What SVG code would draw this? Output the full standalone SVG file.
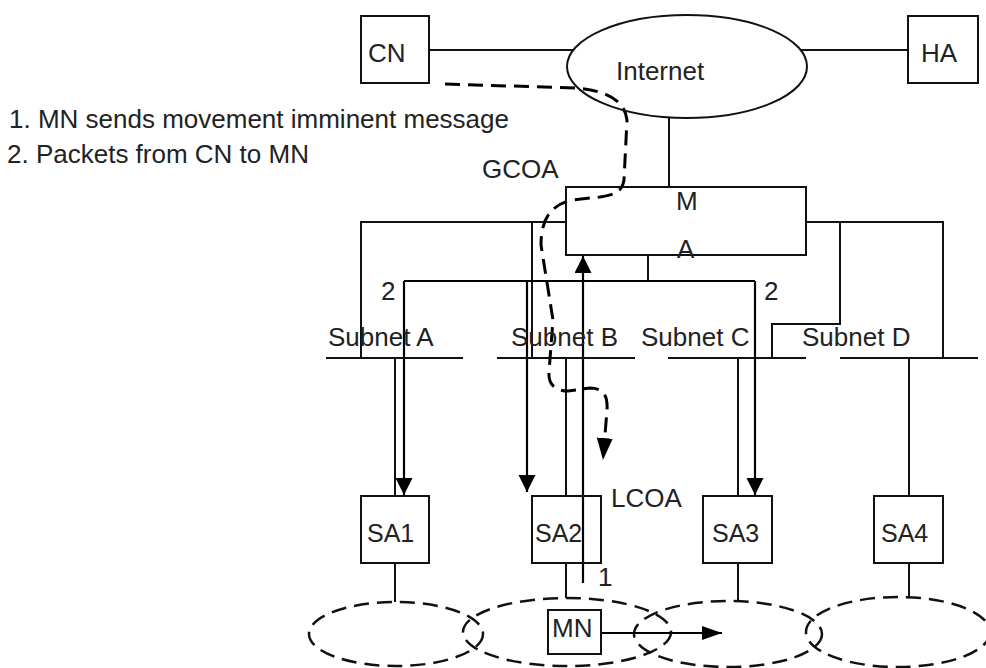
<svg xmlns="http://www.w3.org/2000/svg" width="986" height="668" viewBox="0 0 986 668">
  <style>
    text { font-family: "Liberation Sans", Arial, sans-serif; font-size: 26px; fill: #222; }
    .box { fill: #fff; stroke: #111; stroke-width: 2; }
    .ln { fill: none; stroke: #111; stroke-width: 2; }
    .arr { fill: none; stroke: #000; stroke-width: 2.2; }
    .cell { fill: none; stroke: #111; stroke-width: 2.5; stroke-dasharray: 15 8; }
    .route { fill: none; stroke: #000; stroke-width: 3; stroke-dasharray: 15 8; }
    .sa { font-size: 25px; }
  </style>
  <defs>
    <marker id="head" markerUnits="userSpaceOnUse" markerWidth="18" markerHeight="18" refX="17" refY="8.5" orient="auto">
      <path d="M0,0 L17,8.5 L0,17 z" fill="#000"/>
    </marker>
    <marker id="headLong" markerUnits="userSpaceOnUse" markerWidth="23" markerHeight="17" refX="22" refY="8" orient="auto">
      <path d="M0,0 L22,8 L0,16 z" fill="#000"/>
    </marker>
    <marker id="headFlat" markerUnits="userSpaceOnUse" markerWidth="21" markerHeight="15" refX="20" refY="7" orient="auto">
      <path d="M0,0 L20,7 L0,14 z" fill="#000"/>
    </marker>
  </defs>

  <!-- legend -->
  <g id="legend">
    <text x="9" y="128">1. MN sends movement imminent message</text>
    <text x="7" y="163">2. Packets from CN to MN</text>
  </g>

  <!-- dashed coverage cells of the four SAs -->
  <g id="cells">
    <ellipse class="cell" cx="396" cy="634" rx="87" ry="32"/>
    <ellipse class="cell" cx="567" cy="632" rx="104" ry="34"/>
    <ellipse class="cell" cx="728" cy="634" rx="94" ry="33"/>
    <ellipse class="cell" cx="898" cy="632" rx="92" ry="35"/>
  </g>

  <!-- wiring and message paths -->
  <g id="connectors">
    <path class="ln" d="M429,50 H573"/>
    <path class="ln" d="M801,50 H908"/>
    <path class="ln" d="M669,117 V187"/>
    <!-- left feeders -->
    <path class="ln" d="M566,222 H361 V358"/>
    <path class="ln" d="M532,222 V358"/>
    <!-- right feeders -->
    <path class="ln" d="M806,222 H943 V358"/>
    <path class="ln" d="M840,222 V324 H772 V358"/>
    <!-- subnet drops to SAs -->
    <path class="ln" d="M395,358 V496"/>
    <path class="ln" d="M566,358 V496"/>
    <path class="ln" d="M738,358 V496"/>
    <path class="ln" d="M909,358 V496"/>
    <!-- SA to cells -->
    <path class="ln" d="M395,563 V602"/>
    <path class="ln" d="M566,563 V598"/>
    <path class="ln" d="M738,563 V601"/>
    <path class="ln" d="M909,563 V597"/>
    <!-- packet path 2 -->
    <path class="ln" d="M648,255 V281"/>
    <path class="arr" d="M404,281 H755"/>
    <path class="arr" d="M404,281 V495" marker-end="url(#head)"/>
    <path class="arr" d="M755,281 V495" marker-end="url(#head)"/>
    <path class="arr" d="M527,281 V492" marker-end="url(#head)"/>
    <!-- message 1 up to the MAP -->
    <path class="arr" d="M583,583 V256" marker-end="url(#head)"/>
    <!-- MN movement -->
    <path class="arr" d="M601,633 H722" marker-end="url(#headFlat)"/>
    <!-- dashed CN to MN route -->
    <path class="route" d="M445,84 L575,88 C605,90 625,100 627,120 L624,180 C622,192 614,195 600,197 L572,200 C550,205 541,220 541,245 L553,320 L549,372 C548,385 556,391 568,391 L590,388 C603,388 608,395 607,410 L603,460" marker-end="url(#headLong)"/>
  </g>

  <g id="CN">
    <rect class="box" x="361" y="16" width="68" height="67"/>
    <text x="368" y="62">CN</text>
  </g>
  <g id="HA">
    <rect class="box" x="908" y="16" width="70" height="67"/>
    <text x="921" y="62">HA</text>
  </g>
  <g id="Internet">
    <ellipse cx="687" cy="66.5" rx="120" ry="51.5" fill="none" stroke="#111" stroke-width="2"/>
    <text x="616" y="80">Internet</text>
  </g>
  <g id="MAP">
    <rect class="box" x="566" y="187" width="240" height="68" fill="none" style="fill:none"/>
    <text x="676" y="210">M</text>
    <text x="677" y="258">A</text>
  </g>

  <g id="labels">
    <text x="482" y="178">GCOA</text>
    <text x="381" y="300">2</text>
    <text x="764" y="300">2</text>
    <text x="611" y="507">LCOA</text>
    <text x="598" y="586">1</text>
  </g>

  <g id="subnetA">
    <path class="ln" d="M326,358 H463"/>
    <text x="328" y="346">Subnet A</text>
  </g>
  <g id="subnetB">
    <path class="ln" d="M497,358 H635"/>
    <text x="511" y="346">Subnet B</text>
  </g>
  <g id="subnetC">
    <path class="ln" d="M668,358 H806"/>
    <text x="641" y="346">Subnet C</text>
  </g>
  <g id="subnetD">
    <path class="ln" d="M840,358 H978"/>
    <text x="802" y="346">Subnet D</text>
  </g>

  <g id="SA1">
    <rect class="box" x="361" y="496" width="68" height="67" style="fill:none"/>
    <text class="sa" x="367" y="542">SA1</text>
  </g>
  <g id="SA2">
    <rect class="box" x="532" y="496" width="69" height="67" style="fill:none"/>
    <text class="sa" x="535" y="542">SA2</text>
  </g>
  <g id="SA3">
    <rect class="box" x="703" y="496" width="69" height="67" style="fill:none"/>
    <text class="sa" x="712" y="542">SA3</text>
  </g>
  <g id="SA4">
    <rect class="box" x="874" y="496" width="69" height="67" style="fill:none"/>
    <text class="sa" x="881" y="542">SA4</text>
  </g>
  <g id="MN">
    <rect class="box" x="548" y="610" width="53" height="44"/>
    <text x="552" y="637">MN</text>
  </g>
</svg>
